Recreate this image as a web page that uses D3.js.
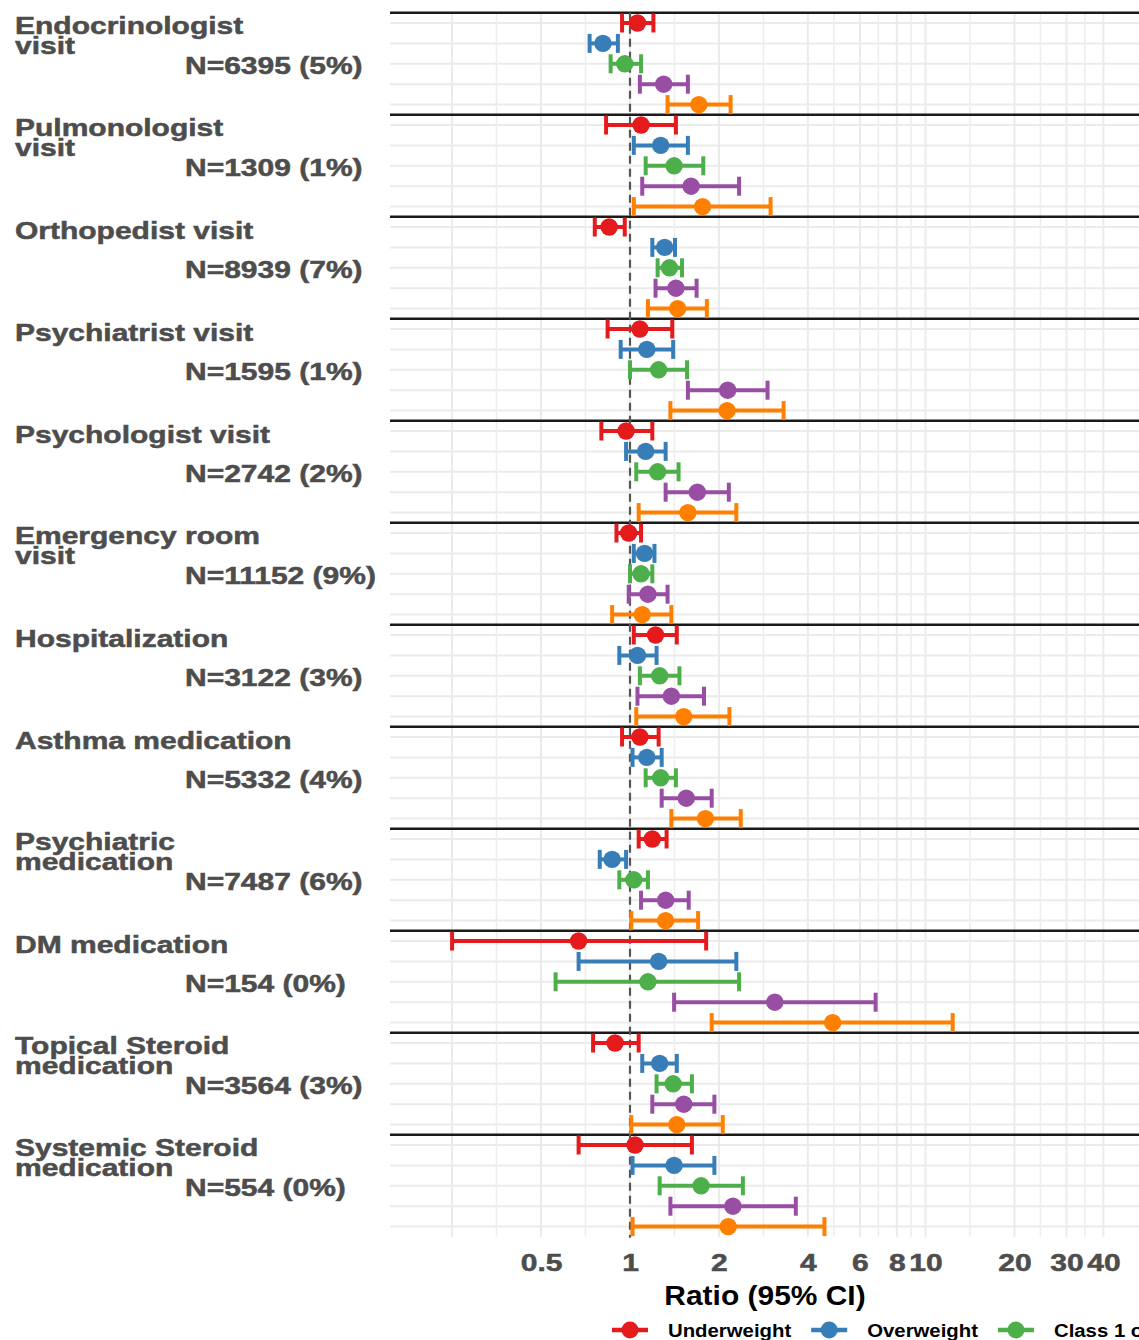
<!DOCTYPE html>
<html><head><meta charset="utf-8">
<script src="https://cdn.jsdelivr.net/npm/d3@7"></script>
<style>body{margin:0;background:#fff;overflow:hidden} svg{display:block;background:#fff}</style>
</head><body>
<svg id="chart" width="1139" height="1340"></svg>
<script>
// ---------------- DATA ----------------
const categories = [
  "Endocrinologist\nvisit", "Pulmonologist\nvisit", "Orthopedist visit", "Psychiatrist visit",
  "Psychologist visit", "Emergency room\nvisit", "Hospitalization", "Asthma medication",
  "Psychiatric\nmedication", "DM medication", "Topical Steroid\nmedication", "Systemic Steroid\nmedication"
];
const nLabels = [
  "N=6395 (5%)", "N=1309 (1%)", "N=8939 (7%)", "N=1595 (1%)", "N=2742 (2%)", "N=11152 (9%)",
  "N=3122 (3%)", "N=5332 (4%)", "N=7487 (6%)", "N=154 (0%)", "N=3564 (3%)", "N=554 (0%)"
];
const seriesNames = ["Underweight", "Overweight", "Class 1 obesity", "Class 2 obesity", "Class 3 obesity"];

const underweightEst = [1.06, 1.09, 0.85, 1.08, 0.97, 0.99, 1.22, 1.08, 1.19, 0.67, 0.89, 1.04];
const underweightLo  = [0.94, 0.83, 0.76, 0.84, 0.80, 0.90, 1.03, 0.94, 1.07, 0.25, 0.75, 0.67];
const underweightHi  = [1.20, 1.43, 0.96, 1.39, 1.19, 1.09, 1.44, 1.25, 1.33, 1.81, 1.07, 1.62];

const overweightEst = [0.81, 1.27, 1.31, 1.14, 1.13, 1.12, 1.06, 1.14, 0.87, 1.25, 1.26, 1.41];
const overweightLo  = [0.73, 1.03, 1.19, 0.93, 0.97, 1.03, 0.92, 1.02, 0.79, 0.67, 1.10, 1.02];
const overweightHi  = [0.91, 1.57, 1.42, 1.40, 1.32, 1.21, 1.23, 1.28, 0.97, 2.29, 1.44, 1.93];

const class1Est = [0.96, 1.41, 1.36, 1.25, 1.24, 1.09, 1.26, 1.27, 1.03, 1.15, 1.40, 1.74];
const class1Lo  = [0.86, 1.13, 1.24, 1.00, 1.05, 1.00, 1.08, 1.13, 0.92, 0.56, 1.23, 1.26];
const class1Hi  = [1.09, 1.77, 1.50, 1.56, 1.46, 1.19, 1.47, 1.43, 1.15, 2.34, 1.62, 2.41];

const class2Est = [1.30, 1.61, 1.43, 2.14, 1.69, 1.15, 1.38, 1.55, 1.32, 3.09, 1.52, 2.23];
const class2Lo  = [1.08, 1.10, 1.22, 1.57, 1.32, 0.99, 1.06, 1.28, 1.09, 1.41, 1.19, 1.37];
const class2Hi  = [1.57, 2.34, 1.68, 2.92, 2.16, 1.34, 1.78, 1.89, 1.58, 6.78, 1.93, 3.64];

const class3Est = [1.71, 1.76, 1.45, 2.13, 1.57, 1.10, 1.52, 1.80, 1.32, 4.85, 1.44, 2.15];
const class3Lo  = [1.34, 1.03, 1.15, 1.37, 1.07, 0.87, 1.05, 1.38, 1.01, 1.89, 1.01, 1.02];
const class3Hi  = [2.19, 2.99, 1.82, 3.31, 2.29, 1.38, 2.17, 2.37, 1.70, 12.36, 2.06, 4.55];

const tickValues = [0.5, 1, 2, 4, 6, 8, 10, 20, 30, 40];
const tickLabels = ["0.5", "1", "2", "4", "6", "8", "10", "20", "30", "40"];
const extraGridBreaks = [0.25];
const xTitle = "Ratio (95% CI)";

// ---------------- STYLE ----------------
const colors = ["#E41A1C", "#377EB8", "#4DAF4A", "#984EA3", "#FF7F00"];
const panel = {left: 390, right: 1139, top: 12.8, bottom: 1236.8};
const axisTextColor = "#4d4d4d";
const FONT = "'Liberation Sans', Arial, Helvetica, sans-serif";
const stretch = 1.25;

// ---------------- BUILD ----------------
const seriesData = [
  [underweightEst, underweightLo, underweightHi],
  [overweightEst, overweightLo, overweightHi],
  [class1Est, class1Lo, class1Hi],
  [class2Est, class2Lo, class2Hi],
  [class3Est, class3Lo, class3Hi]
];
const nS = seriesNames.length;
const rows = [];
categories.forEach((c, g) => {
  seriesData.forEach((s, k) => {
    rows.push({g, k, row: g * nS + k, est: s[0][g], lo: s[1][g], hi: s[2][g]});
  });
});

const svg = d3.select("#chart");
const x = d3.scaleLog().domain([1, 10]).range([630, 925.5]);
const y = d3.scaleBand().domain(d3.range(categories.length * nS)).range([panel.top, panel.bottom]).padding(0);
const yc = i => y(i) + y.bandwidth() / 2;

const grid = svg.append("g");
grid.selectAll("line.h").data(d3.range(categories.length * nS)).join("line")
  .attr("x1", panel.left).attr("x2", panel.right)
  .attr("y1", d => yc(d)).attr("y2", d => yc(d))
  .attr("stroke", "#ebebeb").attr("stroke-width", 2);
const majors = extraGridBreaks.concat(tickValues).sort((a, b) => a - b);
const minors = [];
for (let i = 0; i < majors.length - 1; i++) minors.push(Math.sqrt(majors[i] * majors[i + 1]));
grid.selectAll("line.vmin").data(minors).join("line")
  .attr("x1", d => x(d)).attr("x2", d => x(d))
  .attr("y1", panel.top).attr("y2", panel.bottom)
  .attr("stroke", "#eeeeee").attr("stroke-width", 1.6);
grid.selectAll("line.vmaj").data(majors).join("line")
  .attr("x1", d => x(d)).attr("x2", d => x(d))
  .attr("y1", panel.top).attr("y2", panel.bottom)
  .attr("stroke", "#ebebeb").attr("stroke-width", 2);

svg.append("g").selectAll("line").data(categories).join("line")
  .attr("x1", panel.left).attr("x2", panel.right)
  .attr("y1", (d, g) => y(g * nS)).attr("y2", (d, g) => y(g * nS))
  .attr("stroke", "#1a1a1a").attr("stroke-width", 2.4);

svg.append("line")
  .attr("x1", x(1)).attr("x2", x(1)).attr("y1", panel.top).attr("y2", panel.bottom + 1)
  .attr("stroke", "#555").attr("stroke-width", 2.2).attr("stroke-dasharray", "8,5");

const eb = svg.append("g").selectAll("g").data(rows).join("g")
  .attr("stroke", d => colors[d.k]).attr("stroke-width", 4);
eb.append("line").attr("x1", d => x(d.lo)).attr("x2", d => x(d.hi))
  .attr("y1", d => yc(d.row)).attr("y2", d => yc(d.row));
eb.append("line").attr("x1", d => x(d.lo)).attr("x2", d => x(d.lo))
  .attr("y1", d => yc(d.row) - 9.5).attr("y2", d => yc(d.row) + 9.5);
eb.append("line").attr("x1", d => x(d.hi)).attr("x2", d => x(d.hi))
  .attr("y1", d => yc(d.row) - 9.5).attr("y2", d => yc(d.row) + 9.5);
svg.append("g").selectAll("circle").data(rows).join("circle")
  .attr("cx", d => x(d.est)).attr("cy", d => yc(d.row)).attr("r", 8.7)
  .attr("fill", d => colors[d.k]);

const lab = svg.append("g").attr("font-family", FONT).attr("font-weight", "bold")
  .attr("font-size", 24).attr("fill", axisTextColor)
  .attr("stroke", axisTextColor).attr("stroke-width", 0.5);
categories.forEach((c, g) => {
  const lines = c.split("\n");
  const base = yc(g * nS) + (lines.length > 1 ? 10.5 : 11.5);
  lines.forEach((ln, j) => {
    lab.append("text").attr("transform", `translate(15,${base + j * 20}) scale(${stretch},1)`).text(ln);
  });
  lab.append("text").attr("transform", `translate(185,${yc(g * nS + 2) + 10.3}) scale(${stretch},1)`).text(nLabels[g]);
});

const ax = svg.append("g").attr("transform", "translate(0,1271)")
  .call(d3.axisBottom(x).tickValues(tickValues).tickFormat((d, i) => tickLabels[i]).tickSize(0).tickPadding(0));
ax.select(".domain").remove();
ax.selectAll("text").attr("y", 0).attr("dy", null)
  .attr("font-family", FONT).attr("font-weight", "bold").attr("font-size", 24)
  .attr("fill", axisTextColor).attr("stroke", axisTextColor).attr("stroke-width", 0.5)
  .attr("transform", `scale(${stretch},1)`);

svg.append("text").attr("transform", "translate(765,1305) scale(1.07,1)")
  .attr("text-anchor", "middle").attr("font-family", FONT).attr("font-weight", "bold")
  .attr("font-size", 28).attr("fill", "#000").text(xTitle);

const leg = svg.append("g");
let lx = 612;
seriesNames.forEach((s, k) => {
  const g = leg.append("g");
  g.append("line").attr("x1", lx).attr("x2", lx + 36).attr("y1", 1330).attr("y2", 1330)
    .attr("stroke", colors[k]).attr("stroke-width", 4.5);
  g.append("circle").attr("cx", lx + 18).attr("cy", 1330).attr("r", 8.5).attr("fill", colors[k]);
  const t = g.append("text").attr("transform", `translate(${lx + 56},1336.5) scale(1.1,1)`)
    .attr("font-family", FONT).attr("font-weight", "bold").attr("font-size", 18.5).attr("fill", "#000").text(s);
  lx = lx + 56 + t.node().getComputedTextLength() * 1.1 + 20;
});
</script>
</body></html>
